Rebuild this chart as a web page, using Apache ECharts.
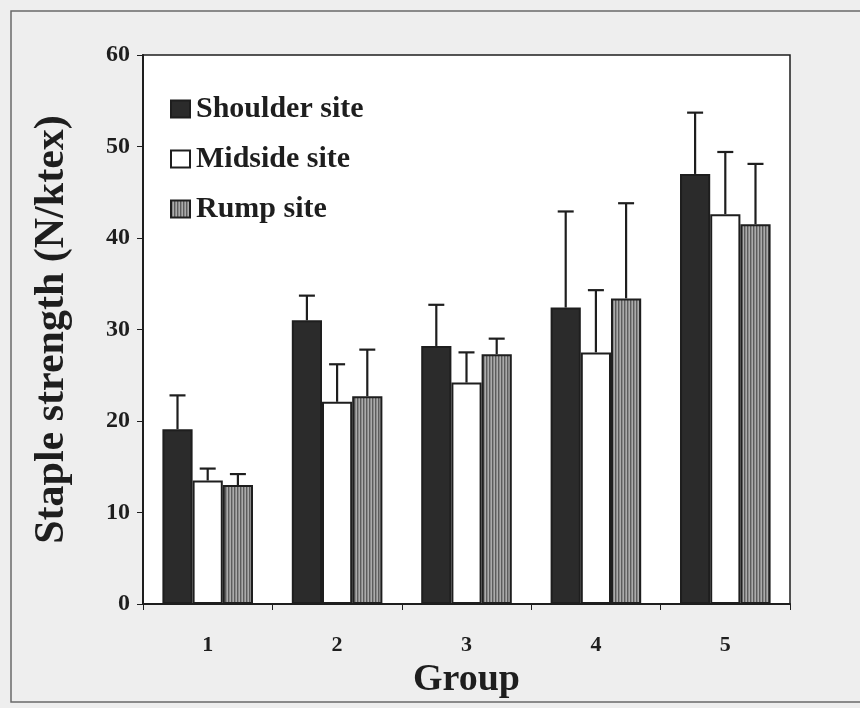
<!DOCTYPE html>
<html>
<head>
<meta charset="utf-8">
<title>Staple strength by group</title>
<script src="https://cdn.jsdelivr.net/npm/echarts@6/dist/echarts.min.js"></script>
<style>
  html, body { margin: 0; padding: 0; background: #eeeeee; }
  #chart { width: 860px; height: 708px; }
</style>
</head>
<body>
<div id="chart"></div>
<script>
// Groups on the x axis
const groups = ['1', '2', '3', '4', '5'];
const yTicks = [0, 10, 20, 30, 40, 50, 60];

// Mean staple strength (N/ktex) per site
const shoulderMean = [19.1, 31.0, 28.2, 32.4, 47.0];
const midsideMean  = [13.5, 22.1, 24.2, 27.5, 42.6];
const rumpMean     = [13.0, 22.7, 27.3, 33.4, 41.5];

// Upper error (N/ktex) per site
const shoulderErr = [3.7, 2.7, 4.5, 10.5, 6.7];
const midsideErr  = [1.3, 4.1, 3.3, 6.8, 6.8];
const rumpErr     = [1.2, 5.1, 1.7, 10.4, 6.6];

const seriesNames = ['Shoulder site', 'Midside site', 'Rump site'];

const FONT = '"Liberation Serif", "Times New Roman", serif';
const INK = '#1e1e1e';
const CAT_GAP = 0.30;

// Vertical stripe fill for the rump bars
function stripePattern() {
  const c = document.createElement('canvas');
  c.width = 3; c.height = 4;
  const ctx = c.getContext('2d');
  const cols = ['#5c5c5c', '#8a8a8a', '#ababab'];
  cols.forEach((col, i) => { ctx.fillStyle = col; ctx.fillRect(i, 0, 1, 4); });
  return { image: c, repeat: 'repeat' };
}
const rumpFill = stripePattern();

const barFills = ['#2b2b2b', '#ffffff', rumpFill];

function barSeries(name, values, fill) {
  return {
    name: name,
    type: 'bar',
    data: values,
    barGap: '0%',
    barCategoryGap: (CAT_GAP * 100) + '%',
    itemStyle: { color: fill, borderColor: INK, borderWidth: 2 },
    emphasis: { disabled: true },
    z: 2
  };
}

// Upper-only error bars, placed over the matching bar of each group
function errSeries(means, errs, slot) {
  return {
    type: 'custom',
    data: means.map((m, i) => [i, m, errs[i]]),
    encode: { x: 0, y: 1 },
    z: 3,
    silent: true,
    renderItem: function (params, api) {
      const cat = api.value(0), mean = api.value(1), err = api.value(2);
      const base = api.coord([cat, mean]);
      const top = api.coord([cat, mean + err]);
      const band = api.size([1, 0])[0];
      const barW = band * (1 - CAT_GAP) / 3;
      const x = base[0] + (slot - 1) * barW;
      const cap = 8;
      const style = { stroke: INK, lineWidth: 2.2 };
      return {
        type: 'group',
        children: [
          { type: 'line', shape: { x1: x, y1: base[1], x2: x, y2: top[1] }, style: style },
          { type: 'line', shape: { x1: x - cap, y1: top[1], x2: x + cap, y2: top[1] }, style: style }
        ]
      };
    }
  };
}

const chart = echarts.init(document.getElementById('chart'), null, { renderer: 'canvas' });

chart.setOption({
  backgroundColor: '#eeeeee',
  animation: false,
  textStyle: { fontFamily: FONT },
  grid: {
    left: 143, right: 70, top: 55, bottom: 104,
    show: true, backgroundColor: '#ffffff', borderColor: INK, borderWidth: 1.5
  },
  legend: {
    orient: 'vertical',
    left: 165,
    top: 89,
    itemWidth: 19,
    itemHeight: 17,
    itemGap: 20,
    icon: 'rect',
    selectedMode: false,
    data: seriesNames,
    textStyle: {
      fontFamily: FONT, fontWeight: 'bold', fontSize: 30, color: INK,
      lineHeight: 30, padding: [0, 0, 0, 1]
    }
  },
  xAxis: {
    type: 'category',
    data: groups,
    name: 'Group',
    nameLocation: 'middle',
    nameGap: 44,
    nameTextStyle: { fontFamily: FONT, fontWeight: 'bold', fontSize: 38, color: INK },
    axisLine: { lineStyle: { color: INK, width: 2 } },
    axisTick: { show: true, length: 6, lineStyle: { color: INK, width: 1 } },
    axisLabel: { fontFamily: FONT, fontWeight: 'bold', fontSize: 22, color: INK, margin: 30 },
    splitLine: { show: false }
  },
  yAxis: {
    type: 'value',
    min: yTicks[0],
    max: yTicks[yTicks.length - 1],
    interval: 10,
    name: 'Staple strength (N/ktex)',
    nameLocation: 'middle',
    nameGap: 70,
    nameTextStyle: { fontFamily: FONT, fontWeight: 'bold', fontSize: 42, color: INK },
    axisLine: { show: true, lineStyle: { color: INK, width: 2 } },
    axisTick: { show: true, length: 6, lineStyle: { color: INK, width: 1 } },
    axisLabel: { fontFamily: FONT, fontWeight: 'bold', fontSize: 24, color: INK, margin: 13 },
    splitLine: { show: false }
  },
  series: [
    barSeries(seriesNames[0], shoulderMean, barFills[0]),
    barSeries(seriesNames[1], midsideMean, barFills[1]),
    barSeries(seriesNames[2], rumpMean, barFills[2]),
    errSeries(shoulderMean, shoulderErr, 0),
    errSeries(midsideMean, midsideErr, 1),
    errSeries(rumpMean, rumpErr, 2)
  ],
  graphic: [
    // outer frame around the figure
    { type: 'polyline', silent: true, z: 10,
      shape: { points: [[860, 11], [11, 11], [11, 702], [860, 702]] },
      style: { stroke: '#6a6a6a', lineWidth: 1.5, fill: null } }
  ]
});
</script>
</body>
</html>
